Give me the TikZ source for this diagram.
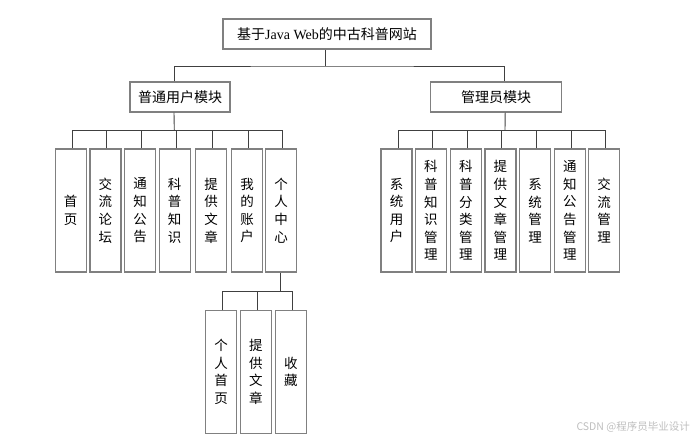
\documentclass[tikz,border=0pt]{standalone}
\usepackage{fontspec}
\setmainfont{Liberation Serif}
\newfontfamily\cjk{Noto Sans CJK SC}
\definecolor{boxgray}{RGB}{128,128,128}
\definecolor{linegray}{RGB}{64,64,64}
\definecolor{wmgray}{RGB}{190,190,190}
\begin{document}
\begin{tikzpicture}[x=1pt,y=-1pt,
  box/.style={draw=boxgray,line width=1.4pt,fill=white,inner sep=0pt,font=\fontsize{14}{17}\selectfont},
  hbox/.style={box,minimum height=30pt},
  vbox/.style={box,minimum width=31pt,minimum height=123pt,align=center,font=\cjk\fontsize{13.5}{17.6}\selectfont},
  conn/.style={draw=linegray,line width=0.9pt}]
\useasboundingbox (0,0) rectangle (698,441);
% top level
\node[hbox,minimum width=208pt] (root) at (327,34) {{\cjk 基于}Java Web{\cjk 的中古科普网站}};
\node[hbox,minimum width=100pt,font=\cjk\fontsize{14}{17}\selectfont] (umod) at (180,97) {普通用户模块};
\node[hbox,minimum width=131pt,font=\cjk\fontsize{14}{17}\selectfont] (amod) at (496.2,97) {管理员模块};
% user children
\node[vbox] (u1) at (70.7,210.5) {首\\页};
\node[vbox] (u2) at (105.3,210.5) {交\\流\\论\\坛};
\node[vbox] (u3) at (140,210.5) {通\\知\\公\\告};
\node[vbox] (u4) at (174.7,210.5) {科\\普\\知\\识};
\node[vbox] (u5) at (211.2,210.5) {提\\供\\文\\章};
\node[vbox] (u6) at (247,210.5) {我\\的\\账\\户};
\node[vbox] (u7) at (281,210.5) {个\\人\\中\\心};
% admin children
\node[vbox] (a1) at (396.5,210.5) {系\\统\\用\\户};
\node[vbox] (a2) at (430.8,210.5) {科\\普\\知\\识\\管\\理};
\node[vbox] (a3) at (465.8,210.5) {科\\普\\分\\类\\管\\理};
\node[vbox] (a4) at (500.3,210.5) {提\\供\\文\\章\\管\\理};
\node[vbox] (a5) at (535.2,210.5) {系\\统\\管\\理};
\node[vbox] (a6) at (569.8,210.5) {通\\知\\公\\告\\管\\理};
\node[vbox] (a7) at (604.2,210.5) {交\\流\\管\\理};
% personal center children
\node[vbox,minimum height=122.6pt] (s1) at (221,372) {个\\人\\首\\页};
\node[vbox,minimum height=122.6pt] (s2) at (255.8,372) {提\\供\\文\\章};
\node[vbox,minimum height=122.6pt] (s3) at (290.8,372) {收\\藏};
% watermark
\node[anchor=east,text=wmgray,inner sep=0pt,font=\cjk\fontsize{10.5}{12}\selectfont] (wm) at (690,427) {CSDN @程序员毕业设计};
% connectors
\coordinate (rb) at (325,66);
\coordinate (ub) at (174.3,130);
\coordinate (ab) at (505,130);
\coordinate (sb) at (280.3,291.7);
\begin{scope}[on background layer/.try]
\end{scope}
\draw[conn] (root.south -| rb) -- (rb);
\draw[conn] ([xshift=-6pt]umod.north) |- (rb) -| ([xshift=8pt]amod.north);
\draw[conn] ([xshift=-6pt]umod.south) -- (ub);
\foreach \n in {u1,u2,u3,u4,u5,u6,u7}{\draw[conn] ([xshift=1.5pt]\n.north) |- (ub);}
\draw[conn] ([xshift=9pt]amod.south) -- (ab);
\foreach \n in {a1,a2,a3,a4,a5,a6,a7}{\draw[conn] ([xshift=1.5pt]\n.north) |- (ab);}
\draw[conn] (u7.south -| sb) -- (sb);
\foreach \n in {s1,s2,s3}{\draw[conn] ([xshift=1.5pt]\n.north) |- (sb);}
\end{tikzpicture}
\end{document}
